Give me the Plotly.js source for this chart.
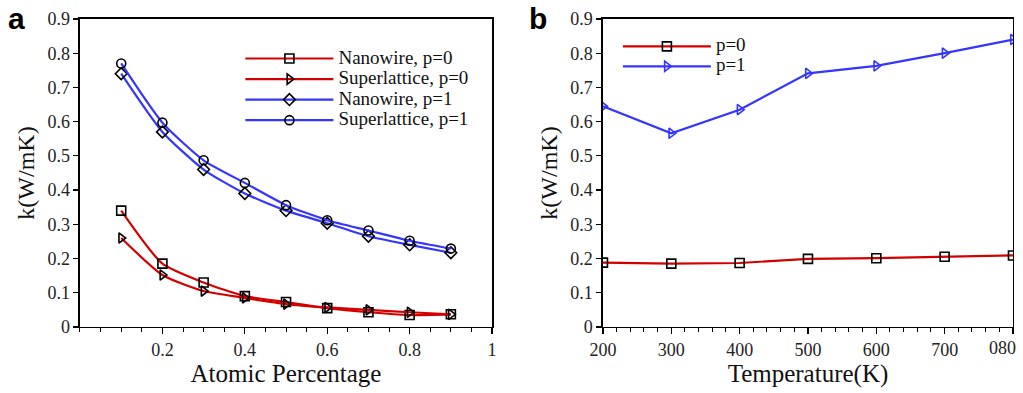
<!DOCTYPE html>
<html><head><meta charset="utf-8">
<script src="https://cdn.plot.ly/plotly-3.0.1.min.js"></script>
<style>html,body{margin:0;padding:0;background:#fff}#c{width:1023px;height:393px}</style>
</head><body><div id="c"></div>
<script>
var atomicPct = [0.1,0.2,0.3,0.4,0.5,0.6,0.7,0.8,0.9];
var nanowireP0 = [0.34,0.185,0.13,0.09,0.073,0.055,0.043,0.035,0.037];
var superP0 = [0.26,0.152,0.105,0.085,0.067,0.057,0.05,0.043,0.037];
var nanowireP1 = [0.74,0.57,0.46,0.39,0.34,0.303,0.265,0.24,0.217];
var superP1 = [0.77,0.597,0.487,0.421,0.356,0.312,0.282,0.252,0.229];
var temps = [200,300,400,500,600,700,800];
var tempP0 = [0.188,0.185,0.187,0.199,0.201,0.205,0.209];
var tempP1 = [0.645,0.566,0.635,0.741,0.763,0.8,0.84];
var xTicksA = [0.2,0.4,0.6,0.8,1];
var xTickTextA = ['0.2','0.4','0.6','0.8','1'];
var xTicksB = [200,300,400,500,600,700,800];
var xTickTextB = ['200','300','400','500','600','700','080'];

var RED = '#d40000', BLUE = '#3535ff';
var serif = 'Times New Roman';
function big(s){ return '<span style="font-size:19px">' + s + '</span>'; }
function tr(x,y,name,color,sym,mcolor,xa,ya,leg,shape){
  return {x:x,y:y,name:big(name),type:'scatter',mode:'lines+markers',xaxis:xa,yaxis:ya,legend:leg,
    line:{color:color,width:2.2,shape:shape||'linear',smoothing:0.6},
    marker:{symbol:sym,size:9,color:mcolor,line:{color:mcolor,width:1.6}}};
}
var data = [
  tr(atomicPct,nanowireP0,'Nanowire, p=0',RED,'square-open','#000','x','y','legend','spline'),
  tr(atomicPct,superP0,'Superlattice, p=0',RED,'triangle-right-open','#000','x','y','legend','spline'),
  tr(atomicPct,nanowireP1,'Nanowire, p=1',BLUE,'diamond-open','#000','x','y','legend','spline'),
  tr(atomicPct,superP1,'Superlattice, p=1',BLUE,'circle-open','#000','x','y','legend','spline'),
  tr(temps,tempP0,'p=0',RED,'square-open','#000','x2','y2','legend2'),
  tr(temps,tempP1,'p=1',BLUE,'triangle-right-open',BLUE,'x2','y2','legend2')
];
function yax(anchor){
  return {domain:[0.168,0.9517],range:[0,0.9],dtick:0.1,tick0:0,anchor:anchor,
    showgrid:false,zeroline:false,showline:true,mirror:true,linecolor:'#000',linewidth:1.5,
    ticks:'outside',ticklen:5,tickwidth:1.2,tickcolor:'#000',
    tickfont:{family:serif,size:18,color:'#222'},
    title:{text:'k(W/mK)',font:{family:serif,size:24,color:'#111'},standoff:6}};
}
function xax(dom,range,tv,tt,minorD,title,anchor){
  return {domain:dom,range:range,tickvals:tv,ticktext:tt,anchor:anchor,ticklabeloverflow:'allow',
    showgrid:false,zeroline:false,showline:true,mirror:true,linecolor:'#000',linewidth:1.5,
    ticks:'outside',ticklen:6,tickwidth:1.2,tickcolor:'#000',
    minor:{dtick:minorD,ticks:'outside',ticklen:4,tickwidth:1,tickcolor:'#000'},
    tickfont:{family:serif,size:18,color:'#222'},
    title:{text:title,font:{family:serif,size:25,color:'#111'},standoff:5}};
}
var tickTextB = xTickTextB.slice(0, xTickTextB.length-1).concat(['']);
var layout = {
  width:1023,height:393,margin:{l:0,r:0,t:0,b:0},paper_bgcolor:'#fff',plot_bgcolor:'#fff',
  font:{family:serif,size:18,color:'#222'},
  showlegend:true,
  xaxis:xax([0.0782,0.481],[0,1],xTicksA,xTickTextA,0.05,'Atomic Percentage','y'),
  yaxis:yax('x'),
  xaxis2:xax([0.5894,0.9902],[200,800],xTicksB,tickTextB,20,'Temperature(K)','y2'),
  yaxis2:yax('x2'),
  legend:{x:0.235,y:0.89,xanchor:'left',yanchor:'top',bgcolor:'rgba(0,0,0,0)',itemwidth:88,
    tracegroupgap:0,font:{family:serif,size:13.5,color:'#111'}},
  legend2:{x:0.604,y:0.92,xanchor:'left',yanchor:'top',bgcolor:'rgba(0,0,0,0)',itemwidth:88,
    font:{family:serif,size:13,color:'#111'}},
  annotations:[
    {text:'<b>a</b>',xref:'paper',yref:'paper',x:0.006,y:1.0,xanchor:'left',yanchor:'top',showarrow:false,
     font:{family:'Liberation Sans',size:30,color:'#000'}},
    {text:'<b>b</b>',xref:'paper',yref:'paper',x:0.515,y:1.0,xanchor:'left',yanchor:'top',showarrow:false,
     font:{family:'Liberation Sans',size:30,color:'#000'}},
    {text:xTickTextB[xTickTextB.length-1],xref:'x2',yref:'paper',x:xTicksB[xTicksB.length-1],y:0.168,
     yshift:-9,xshift:5,xanchor:'right',yanchor:'top',showarrow:false,
     font:{family:serif,size:18,color:'#222'}}
  ]
};
Plotly.newPlot('c',data,layout,{displayModeBar:false,staticPlot:true});
</script></body></html>
